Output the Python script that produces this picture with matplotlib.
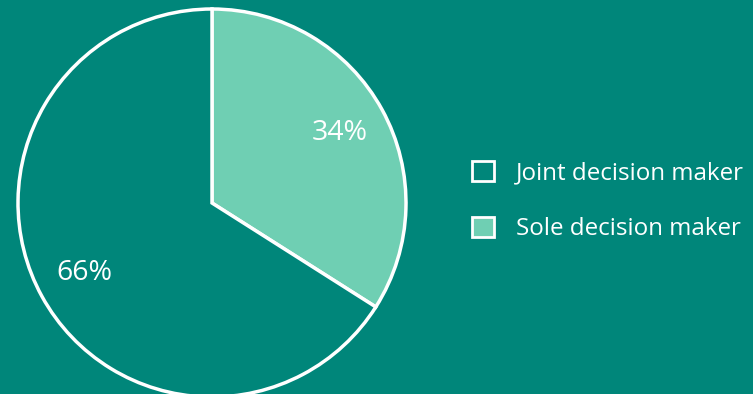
import matplotlib
matplotlib.use("Agg")
import matplotlib.pyplot as plt
from matplotlib.patches import Patch

# données
labels = ["Sole decision maker", "Joint decision maker"]
shares = [34, 66]
legend_order = ["Joint decision maker", "Sole decision maker"]

BG = "#00867A"
COLORS = {"Sole decision maker": "#6FCFB3", "Joint decision maker": "#00867A"}

plt.rcParams["font.family"] = ["Open Sans", "DejaVu Sans"]

fig = plt.figure(figsize=(7.53, 3.94), dpi=100, facecolor=BG)
ax = fig.add_axes([0, 0, 1, 1])
ax.set_facecolor(BG)

wedges, texts, autotexts = ax.pie(
    shares, colors=[COLORS[l] for l in labels], startangle=90, counterclock=False,
    center=(212, 191), radius=194, autopct="%d%%", pctdistance=0.75,
    wedgeprops=dict(edgecolor="white", linewidth=2.5), frame=True,
    textprops=dict(color="white", fontsize=20.5))
ax.set_xlim(0, 753)
ax.set_ylim(0, 394)
ax.set_aspect("equal")
ax.axis("off")

handles = [Patch(facecolor=COLORS[l], edgecolor="white", linewidth=2) for l in legend_order]
fig.legend(handles, legend_order, loc="center left", bbox_to_anchor=(0.614, 0.49),
           frameon=False, labelcolor="white", fontsize=17.4, handlelength=0.9,
           handleheight=0.9, handletextpad=0.9, labelspacing=1.3, borderaxespad=0)

fig.savefig("out.png", dpi=100, facecolor=BG)
